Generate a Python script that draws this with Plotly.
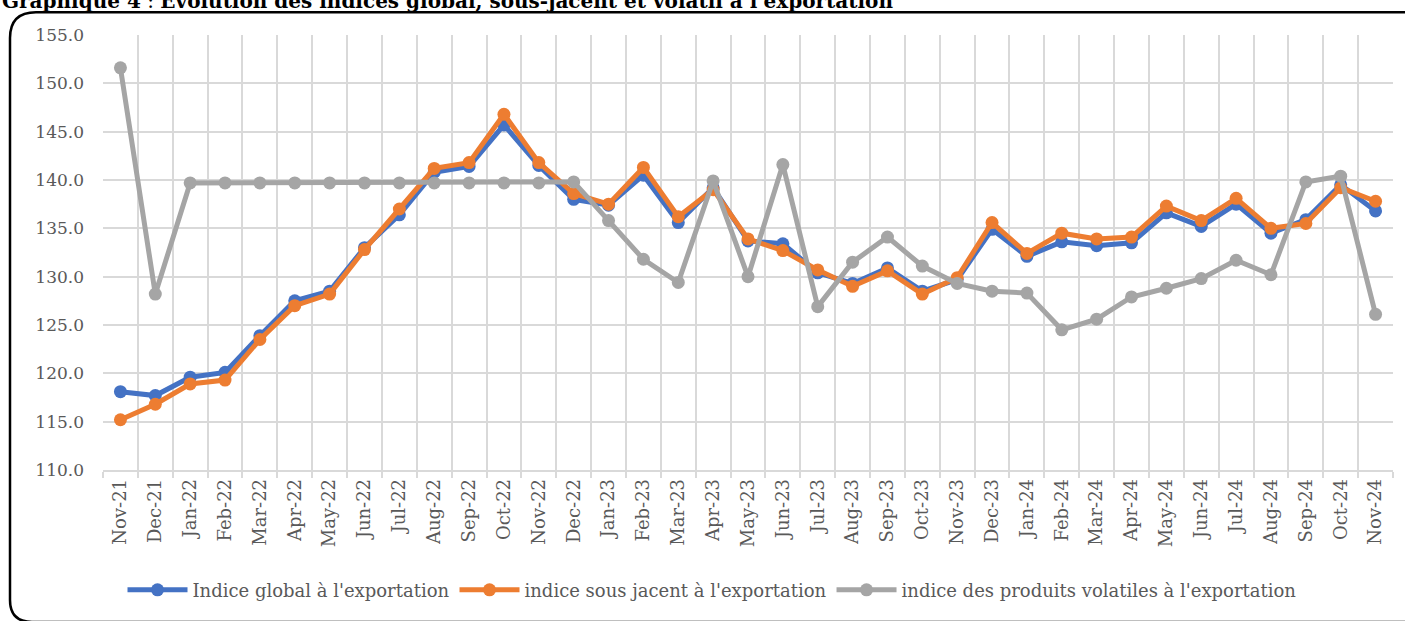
import plotly.graph_objects as go

months = ["Nov-21", "Dec-21", "Jan-22", "Feb-22", "Mar-22", "Apr-22", "May-22", "Jun-22",
          "Jul-22", "Aug-22", "Sep-22", "Oct-22", "Nov-22", "Dec-22", "Jan-23", "Feb-23",
          "Mar-23", "Apr-23", "May-23", "Jun-23", "Jul-23", "Aug-23", "Sep-23", "Oct-23",
          "Nov-23", "Dec-23", "Jan-24", "Feb-24", "Mar-24", "Apr-24", "May-24", "Jun-24",
          "Jul-24", "Aug-24", "Sep-24", "Oct-24", "Nov-24"]

indice_global = [118.1, 117.7, 119.6, 120.1, 123.9, 127.5, 128.5, 133.0, 136.4, 140.8,
                 141.4, 145.7, 141.5, 138.0, 137.4, 140.5, 135.6, 139.2, 133.7, 133.4,
                 130.4, 129.3, 130.9, 128.5, 129.7, 134.9, 132.1, 133.6, 133.2, 133.5,
                 136.6, 135.2, 137.5, 134.5, 135.9, 139.5, 136.8]

indice_sous_jacent = [115.2, 116.8, 118.9, 119.3, 123.5, 127.0, 128.2, 132.8, 137.0, 141.2,
                      141.8, 146.8, 141.8, 138.6, 137.5, 141.3, 136.2, 139.0, 133.9, 132.7,
                      130.7, 129.0, 130.6, 128.2, 129.9, 135.6, 132.4, 134.5, 133.9, 134.1,
                      137.3, 135.8, 138.1, 135.0, 135.5, 139.2, 137.8]

indice_volatil = [151.6, 128.2, 139.7, 139.7, 139.7, 139.7, 139.7, 139.7, 139.7, 139.7,
                  139.7, 139.7, 139.7, 139.8, 135.8, 131.8, 129.4, 139.9, 130.0, 141.6,
                  126.9, 131.5, 134.1, 131.1, 129.3, 128.5, 128.3, 124.5, 125.6, 127.9,
                  128.8, 129.8, 131.7, 130.2, 139.8, 140.4, 126.1]

series_names = ["Indice global à l'exportation",
                "indice sous jacent à l'exportation",
                "indice des produits volatiles à l'exportation"]
y_ticks = [110, 115, 120, 125, 130, 135, 140, 145, 150, 155]
title_text = "<b>Graphique 4</b> : <b>Evolution des indices global, sous-jacent et volatil à l'exportation</b>"

colors = ["#4472C4", "#ED7D31", "#A5A5A5"]
W, H = 1405, 621
ML, MR, MT, MB = 103, 12, 35, 148
PW, PH = W - ML - MR, H - MT - MB


def px(x):
    return (x - ML) / PW


def py(y):
    return (H - MB - y) / PH


fig = go.Figure()
for name, vals, col in zip(series_names, [indice_global, indice_sous_jacent, indice_volatil], colors):
    fig.add_trace(go.Scatter(
        x=months, y=vals, name=name, mode="lines+markers",
        line=dict(color=col, width=5),
        marker=dict(color=col, size=13),
    ))

# rounded border (right and bottom edges lie outside the visible page)
L, T, R, B = 10, 12, 1430, 626
rtl = 26
rbl = 22
rtr = 26
path = (f"M {px(L)},{py(T + rtl)} Q {px(L)},{py(T)} {px(L + rtl)},{py(T)} "
        f"L {px(R - rtr)},{py(T)} Q {px(R)},{py(T)} {px(R)},{py(T + rtr)} "
        f"L {px(R)},{py(B)} "
        f"L {px(L + rbl)},{py(B)} Q {px(L)},{py(B)} {px(L)},{py(B - rbl)} Z")
fig.add_shape(type="path", path=path, xref="paper", yref="paper",
              line=dict(color="black", width=2.5), layer="above")

fig.add_annotation(text=title_text, xref="paper", yref="paper",
                   x=px(0), y=py(15), xanchor="left", yanchor="bottom",
                   showarrow=False, font=dict(family="DejaVu Serif", size=20, color="black"))

fig.update_layout(
    width=W, height=H,
    margin=dict(l=ML, r=MR, t=MT, b=MB),
    paper_bgcolor="white", plot_bgcolor="white",
    font=dict(family="DejaVu Serif", color="#595959"),
    showlegend=True,
    legend=dict(orientation="h", x=px(712), xanchor="center", y=py(594), yanchor="middle",
                font=dict(family="DejaVu Serif", size=18, color="#595959"),
                itemwidth=60, traceorder="normal"),
    xaxis=dict(type="category", tickson="boundaries", showgrid=True,
               gridcolor="#D9D9D9", gridwidth=1.5,
               showline=True, linecolor="#D9D9D9", linewidth=1.5,
               ticks="outside", ticklen=6, tickcolor="#D9D9D9", tickwidth=1.5,
               tickangle=-90, tickfont=dict(family="DejaVu Serif", size=18, color="#595959"),
               range=[-0.5, len(months) - 0.5], fixedrange=True),
    yaxis=dict(range=[110, 155], tickvals=y_ticks, tickformat=".1f",
               showgrid=True, gridcolor="#D9D9D9", gridwidth=1.5,
               zeroline=False, showline=False, ticks="",
               ticklabelstandoff=18,
               tickfont=dict(family="DejaVu Serif", size=17, color="#595959")),
)

fig.write_html("out.html", config={"displayModeBar": False},
               post_script="document.body.style.margin='0';document.body.style.overflow='hidden';")
